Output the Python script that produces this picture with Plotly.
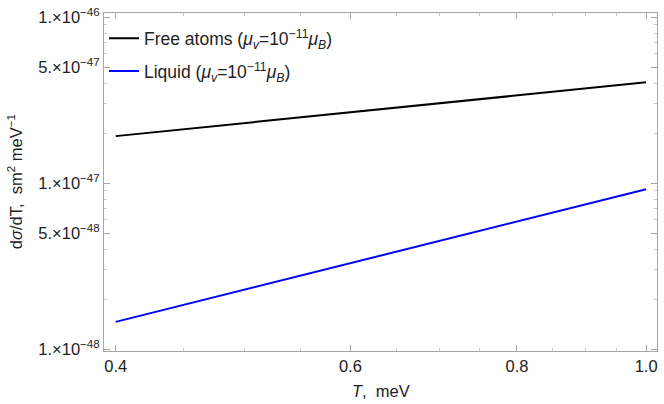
import plotly.graph_objects as go
import numpy as np

# Data (log-log straight lines)
T_vals = [0.4, 0.6, 0.8, 1.0]
free_atoms = [1.92e-47, 2.67e-47, 3.37e-47, 4.05e-47]
liquid = [1.46e-48, 3.30e-48, 5.87e-48, 9.2e-48]

x_tickvals = [0.4, 0.6, 0.8, 1.0]
x_ticktext = ["0.4", "0.6", "0.8", "1.0"]
x_minor = [0.45, 0.5, 0.55, 0.65, 0.7, 0.75, 0.85, 0.9, 0.95]

y_tickvals = [1e-46, 5e-47, 1e-47, 5e-48, 1e-48]
y_ticktext = ["1.×10<sup>−46</sup>", "5.×10<sup>−47</sup>", "1.×10<sup>−47</sup>",
              "5.×10<sup>−48</sup>", "1.×10<sup>−48</sup>"]
y_minor = [m * 10.0 ** e for e in (-48, -47) for m in (2, 3, 4, 6, 7, 8, 9)]

FONT = "Liberation Sans, Arial, sans-serif"
FRAME = "#a6a6a6"
TXT = "#222222"

fig = go.Figure()
fig.add_trace(go.Scatter(
    x=T_vals, y=free_atoms, mode="lines",
    line=dict(color="#000000", width=2),
    name="Free atoms (<i>μ<sub>v</sub></i>=10<sup>−11</sup><i>μ<sub>B</sub></i>)",
    legendgroup="a"))
fig.add_trace(go.Scatter(
    x=T_vals, y=liquid, mode="lines",
    line=dict(color="#0000ff", width=2),
    name="Liquid (<i>μ<sub>v</sub></i>=10<sup>−11</sup><i>μ<sub>B</sub></i>)",
    legendgroup="b"))

axis_common = dict(
    showgrid=False, zeroline=False, showline=True, linecolor=FRAME, linewidth=1,
    mirror="ticks", ticks="inside", ticklen=6, tickcolor=FRAME, tickwidth=1,
    tickfont=dict(family=FONT, size=16.5, color=TXT),
)

fig.update_xaxes(
    type="log", range=[np.log10(0.392), np.log10(1.019)],
    tickmode="array", tickvals=x_tickvals, ticktext=x_ticktext,
    minor=dict(tickmode="array", tickvals=x_minor, ticks="inside", ticklen=3,
               tickcolor="#c8c8c8", tickwidth=1, showgrid=False),
    **axis_common)
fig.update_yaxes(
    type="log", range=[-48.011, -45.975],
    tickmode="array", tickvals=y_tickvals, ticktext=y_ticktext,
    minor=dict(tickmode="array", tickvals=y_minor, ticks="inside", ticklen=3,
               tickcolor="#c8c8c8", tickwidth=1, showgrid=False),
    **axis_common)

fig.update_layout(
    width=664, height=404,
    margin=dict(l=104, r=6, t=10, b=53),
    paper_bgcolor="white", plot_bgcolor="white",
    font=dict(family=FONT, size=16, color=TXT),
    showlegend=True,
    legend=dict(x=0.0, y=0.978, xanchor="left", yanchor="top",
                bgcolor="rgba(0,0,0,0)", borderwidth=0,
                font=dict(family=FONT, size=17.5, color=TXT),
                itemwidth=30, tracegroupgap=7),
    annotations=[
        dict(text="d<i>σ</i>/dT,  sm<sup>2</sup> meV<sup>−1</sup>",
             xref="paper", yref="paper", x=(15 - 104) / 554, y=0.5,
             xanchor="center", yanchor="middle", textangle=-90, showarrow=False,
             font=dict(family=FONT, size=16.5, color=TXT)),
        dict(text="<i>T</i>,  meV",
             xref="paper", yref="paper", x=0.5, y=-(391 - 351) / 341,
             xanchor="center", yanchor="middle", showarrow=False,
             font=dict(family=FONT, size=16.5, color=TXT)),
    ],
)

fig.write_html("out.html", config={"displayModeBar": False},
               post_script="document.body.style.margin='0';document.body.style.overflow='hidden';")
